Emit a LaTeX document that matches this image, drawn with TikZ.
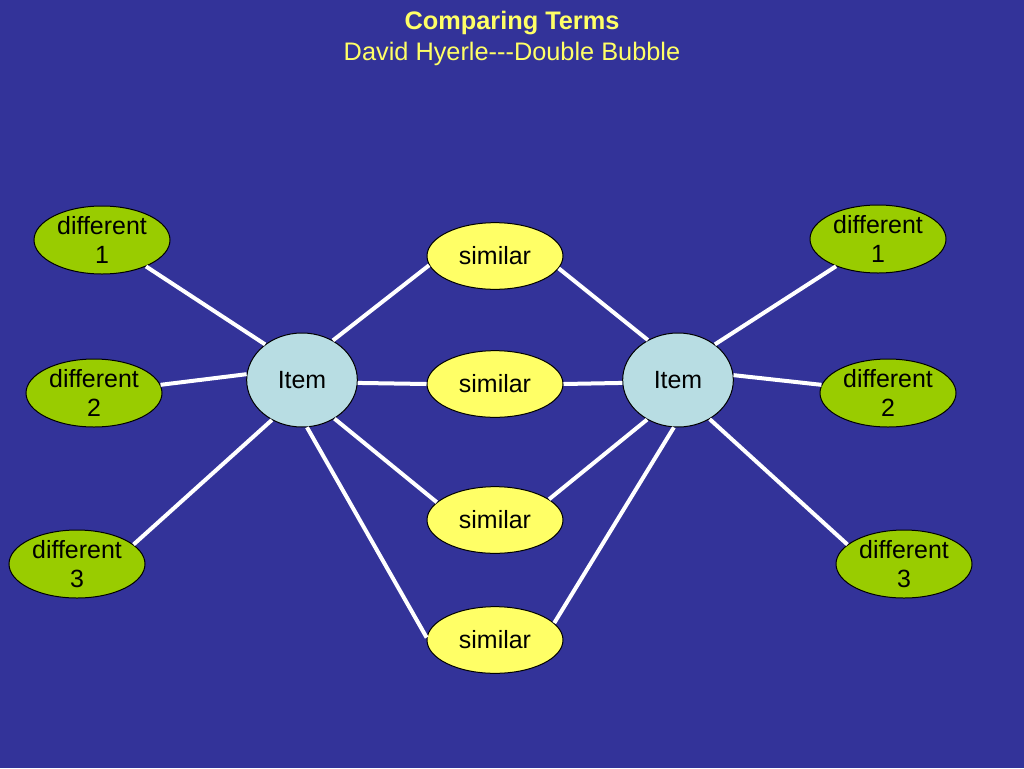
\documentclass[tikz,border=0pt]{standalone}
\usepackage{fontspec}
\setmainfont{Liberation Sans}
\usetikzlibrary{shapes.geometric}
\definecolor{slideblue}{HTML}{333399}
\definecolor{titleyellow}{HTML}{FFFF66}
\definecolor{diffgreen}{HTML}{99CC00}
\definecolor{simyellow}{HTML}{FFFF66}
\definecolor{itemblue}{HTML}{B8DDE3}
\tikzset{
	bubble/.style={ellipse, draw=black, line width=0.75pt, inner xsep=0pt, inner ysep=-4pt,
		align=center, font=\fontsize{18.7pt}{21.8pt}\selectfont},
	diffbubble/.style={bubble, fill=diffgreen, minimum width=102pt, minimum height=51pt},
	simbubble/.style={bubble, fill=simyellow, minimum width=102pt, minimum height=50pt},
	itembubble/.style={bubble, fill=itemblue, minimum width=83pt, minimum height=70.5pt},
	spoke/.style={draw=white, line width=3pt},
}

\begin{document}
\begin{tikzpicture}[x=0.75pt, y=-0.75pt]
							\fill[slideblue] (0,0) rectangle (1024,768);
							\useasboundingbox (0,0) rectangle (1024,768);
							\node[anchor=north, inner sep=0pt, align=center, text=titleyellow,
								font=\fontsize{19pt}{23.5pt}\selectfont] (title) at (512,11)
								{\textbf{Comparing Terms}\\David Hyerle-{}-{}-Double Bubble};
							
							\node[itembubble] (itemL) at (302,380) {Item};
							\node[itembubble] (itemR) at (678,380) {Item};
							
							\node[simbubble] (simA) at (495,256) {similar};
							\node[simbubble] (simB) at (495,384) {similar};
							\node[simbubble] (simC) at (495,520) {similar};
							\node[simbubble] (simD) at (495,640) {similar};
							
							\node[diffbubble] (difL1) at (102,240) {different\\1};
							\node[diffbubble] (difL2) at (94,393) {different\\2};
							\node[diffbubble] (difL3) at (77,564) {different\\3};
							\node[diffbubble] (difR1) at (878,239) {different\\1};
							\node[diffbubble] (difR2) at (888,393) {different\\2};
							\node[diffbubble] (difR3) at (904,564) {different\\3};
							
							\draw[spoke] (itemL.136) -- (difL1.-31);
							\draw[spoke] (itemL.174) -- (difL2.7);
							\draw[spoke] (itemL.233) -- (difL3.19);
							\draw[spoke] (itemL.52) -- (simA.188);
							\draw[spoke] (itemL.-3) -- (simB.west);
							\draw[spoke] (itemL.-50) -- (simC.163);
							\draw[spoke] (itemL.-84) -- (simD.178);
							
							\draw[spoke] (itemR.127) -- (simA.-11);
							\draw[spoke] (itemR.183) -- (simB.east);
							\draw[spoke] (itemR.232) -- (simC.21);
							\draw[spoke] (itemR.265) -- (simD.16);
							\draw[spoke] (itemR.44) -- (difR1.213);
							\draw[spoke] (itemR.5) -- (difR2.173);
							\draw[spoke] (itemR.-51) -- (difR3.161);
						\end{tikzpicture}
\end{document}
